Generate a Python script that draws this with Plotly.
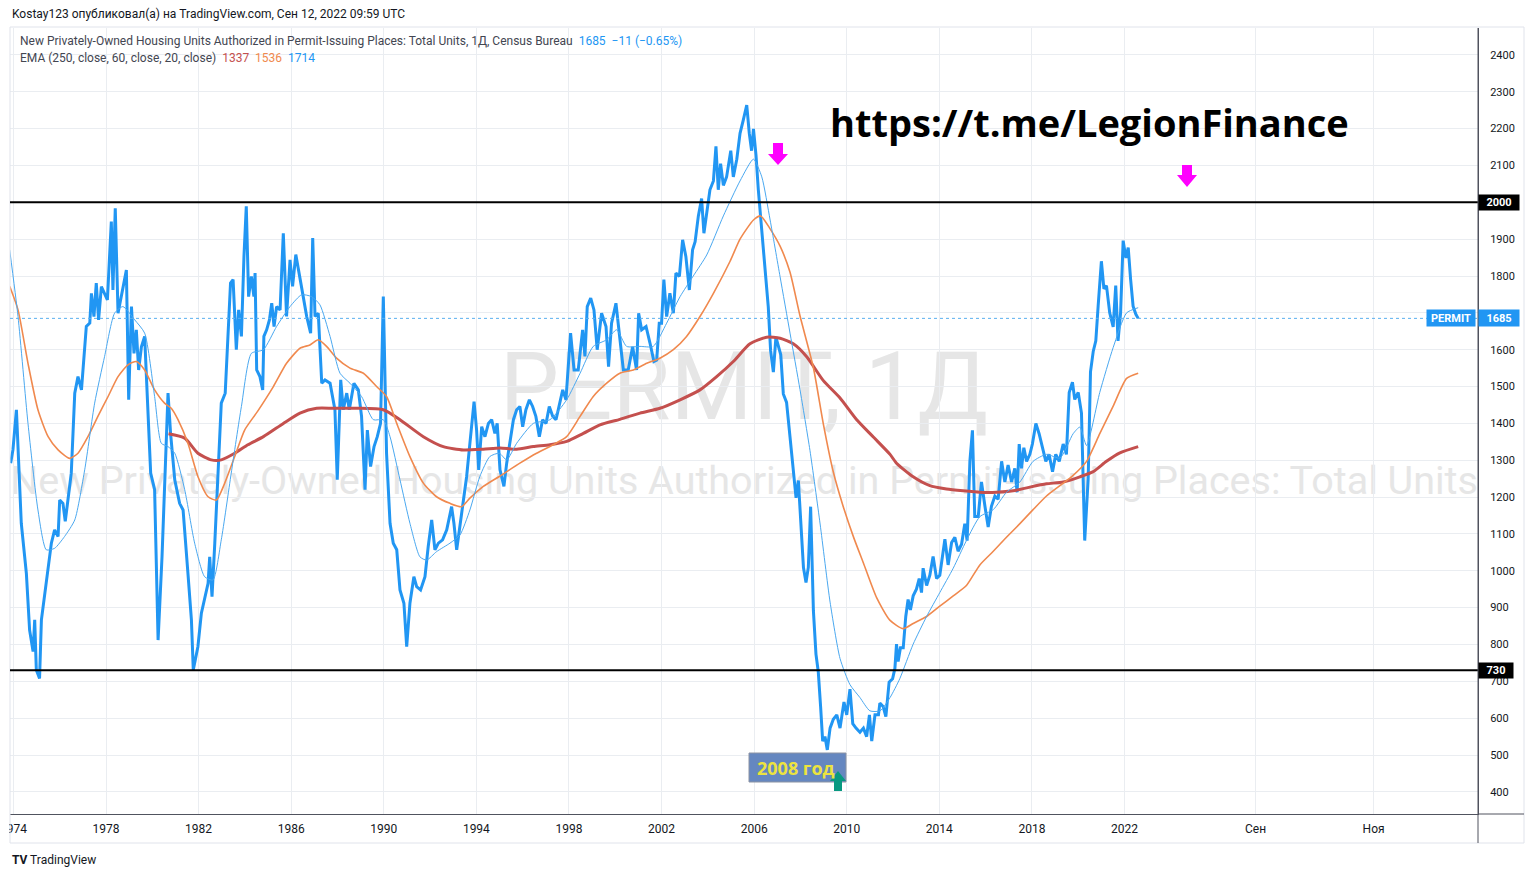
import plotly.graph_objects as go

# ---------------- data ----------------
permit_year = [
    1973.88, 1973.98, 1974.13, 1974.20, 1974.34, 1974.56, 1974.70, 1974.85, 1974.92, 1974.99,
    1975.13, 1975.21, 1975.35, 1975.50, 1975.64, 1975.78, 1975.93, 1976.00, 1976.14, 1976.24,
    1976.36, 1976.50, 1976.65, 1976.79, 1976.94, 1977.15, 1977.30, 1977.37, 1977.48, 1977.58,
    1977.68, 1977.80, 1978.06, 1978.23, 1978.30, 1978.40, 1978.52, 1978.73, 1978.88, 1978.98,
    1979.10, 1979.21, 1979.31, 1979.41, 1979.53, 1979.67, 1979.81, 1979.93, 1980.10, 1980.25,
    1980.42, 1980.56, 1980.68, 1980.79, 1980.97, 1981.18, 1981.33, 1981.54, 1981.69, 1981.77,
    1981.97, 1982.12, 1982.26, 1982.41, 1982.48, 1982.58, 1982.70, 1982.84, 1982.98, 1983.15,
    1983.27, 1983.38, 1983.49, 1983.63, 1983.73, 1983.85, 1983.96, 1984.06, 1984.16, 1984.28,
    1984.39, 1984.44, 1984.51, 1984.65, 1984.77, 1984.82, 1984.94, 1985.06, 1985.16, 1985.26,
    1985.37, 1985.52, 1985.66, 1985.80, 1985.95, 1986.06, 1986.20, 1986.35, 1986.52, 1986.67,
    1986.84, 1986.93, 1987.03, 1987.17, 1987.32, 1987.46, 1987.68, 1987.89, 1987.99, 1988.14,
    1988.25, 1988.40, 1988.51, 1988.71, 1988.90, 1989.04, 1989.19, 1989.29, 1989.43, 1989.58,
    1989.72, 1989.86, 1989.98, 1990.12, 1990.27, 1990.41, 1990.56, 1990.70, 1990.87, 1990.99,
    1991.13, 1991.30, 1991.42, 1991.59, 1991.78, 1991.92, 1992.07, 1992.21, 1992.36, 1992.54,
    1992.72, 1992.93, 1993.03, 1993.15, 1993.26, 1993.44, 1993.58, 1993.72, 1993.90, 1994.01,
    1994.10, 1994.23, 1994.37, 1994.52, 1994.66, 1994.80, 1994.90, 1995.02, 1995.19, 1995.31,
    1995.45, 1995.60, 1995.74, 1995.88, 1996.00, 1996.14, 1996.29, 1996.43, 1996.57, 1996.72,
    1996.86, 1997.01, 1997.15, 1997.30, 1997.44, 1997.58, 1997.73, 1997.87, 1998.07, 1998.22,
    1998.40, 1998.59, 1998.69, 1998.79, 1998.94, 1999.08, 1999.22, 1999.41, 1999.60, 1999.71,
    1999.84, 2000.03, 2000.17, 2000.35, 2000.56, 2000.75, 2000.92, 2001.01, 2001.14, 2001.33,
    2001.50, 2001.67, 2001.79, 2001.90, 2002.00, 2002.10, 2002.22, 2002.36, 2002.51, 2002.62,
    2002.77, 2002.91, 2003.05, 2003.20, 2003.34, 2003.45, 2003.59, 2003.73, 2003.83, 2003.95,
    2004.09, 2004.24, 2004.35, 2004.45, 2004.55, 2004.67, 2004.81, 2004.99, 2005.10, 2005.25,
    2005.39, 2005.53, 2005.68, 2005.79, 2005.89, 2005.97, 2006.08, 2006.18, 2006.33, 2006.47,
    2006.61, 2006.71, 2006.83, 2006.94, 2007.05, 2007.15, 2007.26, 2007.40, 2007.55, 2007.69,
    2007.81, 2007.91, 2008.01, 2008.13, 2008.24, 2008.34, 2008.44, 2008.56, 2008.67, 2008.77,
    2008.87, 2008.96, 2009.06, 2009.16, 2009.28, 2009.42, 2009.57, 2009.71, 2009.88, 2010.00,
    2010.14, 2010.26, 2010.40, 2010.57, 2010.72, 2010.86, 2010.98, 2011.08, 2011.22, 2011.37,
    2011.43, 2011.57, 2011.69, 2011.83, 2011.98, 2012.08, 2012.15, 2012.22, 2012.32, 2012.44,
    2012.55, 2012.65, 2012.75, 2012.87, 2013.01, 2013.13, 2013.23, 2013.30, 2013.45, 2013.59,
    2013.73, 2013.88, 2014.02, 2014.14, 2014.24, 2014.38, 2014.53, 2014.67, 2014.81, 2014.96,
    2015.10, 2015.20, 2015.32, 2015.43, 2015.53, 2015.68, 2015.82, 2015.97, 2016.11, 2016.25,
    2016.40, 2016.54, 2016.69, 2016.83, 2016.97, 2017.12, 2017.26, 2017.36, 2017.45, 2017.55,
    2017.65, 2017.77, 2017.91, 2018.02, 2018.17, 2018.31, 2018.46, 2018.60, 2018.74, 2018.89,
    2019.03, 2019.18, 2019.35, 2019.49, 2019.61, 2019.75, 2019.85, 2020.00, 2020.14, 2020.28,
    2020.43, 2020.53, 2020.65, 2020.76, 2020.86, 2021.00, 2021.11, 2021.22, 2021.36, 2021.51,
    2021.62, 2021.72, 2021.83, 2021.94, 2022.06, 2022.16, 2022.26, 2022.37, 2022.49, 2022.59,
]
permit_value = [
    1292, 1328, 1437, 1346, 1129, 993, 839, 781, 867, 731,
    708, 867, 939, 1011, 1075, 1111, 1093, 1192, 1183, 1134,
    1192, 1265, 1482, 1527, 1491, 1663, 1672, 1753, 1690, 1781,
    1681, 1771, 1735, 1948, 1762, 1984, 1699, 1762, 1816, 1464,
    1717, 1590, 1654, 1545, 1608, 1636, 1446, 1265, 1220, 812,
    1038, 1310, 1482, 1373, 1247, 1183, 1165, 993, 867, 731,
    794, 885, 921, 966, 1038, 930, 1075, 1283, 1455, 1482,
    1654, 1781, 1790, 1600, 1708, 1636, 1853, 1989, 1744, 1799,
    1744, 1808, 1545, 1527, 1491, 1636, 1654, 1681, 1726, 1663,
    1717, 1708, 1916, 1690, 1844, 1772, 1858, 1799, 1744, 1690,
    1645, 1903, 1690, 1699, 1509, 1518, 1509, 1437, 1247, 1518,
    1437, 1482, 1437, 1509, 1491, 1419, 1220, 1382, 1283, 1337,
    1364, 1400, 1744, 1319, 1129, 1075, 1057, 948, 912, 794,
    912, 984, 957, 948, 984, 1066, 1138, 1057, 1075, 1084,
    1111, 1174, 1129, 1057, 1111, 1192, 1256, 1346, 1459, 1382,
    1274, 1391, 1364, 1400, 1410, 1373, 1400, 1274, 1229, 1292,
    1346, 1410, 1437, 1446, 1391, 1437, 1464, 1446, 1419, 1364,
    1410, 1400, 1446, 1419, 1410, 1446, 1491, 1464, 1645, 1545,
    1545, 1654, 1582, 1717, 1740, 1708, 1600, 1699, 1663, 1554,
    1672, 1726, 1645, 1545, 1545, 1608, 1545, 1699, 1654, 1663,
    1618, 1568, 1572, 1672, 1672, 1790, 1690, 1753, 1699, 1808,
    1799, 1898, 1853, 1762, 1871, 1893, 1963, 2010, 1916, 1975,
    2034, 2058, 2152, 2034, 2105, 2046, 2069, 2140, 2069, 2117,
    2187, 2223, 2264, 2187, 2140, 2199, 2128, 2034, 1916, 1810,
    1716, 1598, 1539, 1634, 1610, 1586, 1480, 1457, 1363, 1268,
    1198, 1245, 1127, 1009, 968, 1009, 1174, 891, 774, 726,
    632, 538, 550, 514, 573, 597, 609, 573, 644, 609,
    679, 585, 573, 562, 573, 550, 609, 538, 609, 609,
    641, 632, 604, 698, 707, 735, 801, 754, 791, 791,
    876, 922, 894, 932, 950, 979, 941, 1007, 960, 988,
    1039, 979, 988, 1035, 1086, 1016, 1077, 1091, 1053, 1072,
    1128, 1082, 1297, 1381, 1147, 1147, 1241, 1175, 1119, 1175,
    1203, 1194, 1297, 1241, 1287, 1241, 1278, 1213, 1344, 1278,
    1334, 1297, 1316, 1344, 1400, 1372, 1334, 1297, 1316, 1269,
    1316, 1297, 1344, 1316, 1484, 1512, 1465, 1484, 1428, 1082,
    1250, 1540, 1596, 1624, 1718, 1840, 1765, 1774, 1700, 1662,
    1774, 1624, 1700, 1896, 1849, 1877, 1793, 1718, 1696, 1685,
]

ema250_year = [1980.70, 1981.40, 1981.97, 1982.55, 1982.98, 1983.56, 1984.13, 1984.80, 1985.66, 1986.38,
               1987.10, 1987.82, 1988.83, 1989.98, 1990.70, 1991.71, 1992.57, 1993.44, 1994.30, 1995.02,
               1995.74, 1996.46, 1997.18, 1997.90, 1998.62, 1999.34, 2000.20, 2001.07, 2001.93, 2002.80,
               2003.66, 2004.38, 2005.10, 2005.82, 2006.54, 2007.12, 2007.69, 2008.27, 2008.99, 2009.71,
               2010.43, 2011.15, 2011.87, 2012.15, 2012.87, 2013.59, 2014.31, 2015.03, 2015.75, 2016.47,
               2017.19, 2017.91, 2018.63, 2019.35, 2020.07, 2020.65, 2021.22, 2021.80, 2022.59]
ema250_value = [1372, 1360, 1319, 1301, 1301, 1319, 1342, 1364, 1400, 1428,
                1441, 1441, 1441, 1437, 1410, 1364, 1337, 1328, 1330, 1333,
                1330, 1337, 1342, 1351, 1373, 1396, 1411, 1428, 1441, 1464,
                1491, 1527, 1568, 1616, 1634, 1631, 1616, 1581, 1516, 1469,
                1410, 1363, 1316, 1292, 1255, 1231, 1222, 1217, 1213, 1213,
                1217, 1227, 1236, 1241, 1255, 1269, 1297, 1320, 1337]

ema60_year = [1973.84, 1974.20, 1974.63, 1975.06, 1975.50, 1975.93, 1976.43, 1976.79, 1977.22, 1977.65,
              1978.09, 1978.52, 1978.95, 1979.31, 1979.67, 1980.10, 1980.53, 1980.82, 1981.11, 1981.54,
              1981.97, 1982.41, 1982.77, 1983.13, 1983.56, 1983.99, 1984.54, 1985.23, 1985.80, 1986.38,
              1986.81, 1987.17, 1987.53, 1987.96, 1988.54, 1989.12, 1989.69, 1990.12, 1990.56, 1991.13,
              1991.71, 1992.28, 1992.86, 1993.36, 1993.72, 1994.30, 1994.99, 1995.88, 1996.60, 1997.32,
              1997.90, 1998.48, 1999.05, 1999.63, 2000.20, 2000.78, 2001.36, 2001.93, 2002.51, 2003.08,
              2003.66, 2004.24, 2004.96, 2005.39, 2005.97, 2006.28, 2006.69, 2007.12, 2007.55, 2007.98,
              2008.56, 2008.99, 2009.42, 2009.85, 2010.29, 2010.72, 2011.29, 2011.86, 2012.44, 2012.87,
              2013.45, 2014.02, 2014.60, 2015.17, 2015.75, 2016.33, 2016.90, 2017.48, 2018.05, 2018.63,
              2019.21, 2019.78, 2020.36, 2020.93, 2021.51, 2022.09, 2022.59]
ema60_value = [1772, 1708, 1563, 1437, 1364, 1328, 1305, 1319, 1364, 1419,
               1473, 1527, 1559, 1568, 1545, 1491, 1455, 1441, 1410, 1346,
               1256, 1201, 1192, 1238, 1310, 1382, 1432, 1500, 1563, 1604,
               1613, 1627, 1609, 1577, 1550, 1536, 1500, 1473, 1400, 1310,
               1238, 1201, 1183, 1174, 1197, 1229, 1256, 1292, 1319, 1342,
               1364, 1419, 1473, 1509, 1536, 1545, 1563, 1577, 1600, 1636,
               1690, 1753, 1840, 1900, 1952, 1963, 1928, 1881, 1810, 1692,
               1551, 1398, 1268, 1174, 1092, 1021, 927, 866, 843, 857,
               876, 904, 932, 960, 1016, 1053, 1091, 1128, 1166, 1203,
               1231, 1259, 1297, 1372, 1447, 1522, 1536]

ema20_year = [1973.84, 1974.20, 1974.63, 1975.06, 1975.42, 1975.78, 1976.21, 1976.65, 1977.08, 1977.51,
              1977.94, 1978.37, 1978.73, 1979.24, 1979.67, 1980.10, 1980.39, 1980.68, 1980.97, 1981.40,
              1981.83, 1982.26, 1982.62, 1982.98, 1983.41, 1983.85, 1984.28, 1984.80, 1985.37, 1985.95,
              1986.45, 1986.88, 1987.24, 1987.68, 1988.11, 1988.54, 1989.04, 1989.55, 1989.98, 1990.27,
              1990.70, 1991.13, 1991.56, 1991.85, 1992.28, 1992.86, 1993.29, 1993.72, 1994.15, 1994.58,
              1994.99, 1995.31, 1995.74, 1996.46, 1997.18, 1997.90, 1998.48, 1999.05, 1999.63, 2000.06,
              2000.49, 2001.07, 2001.64, 2002.22, 2002.80, 2003.37, 2003.95, 2004.67, 2005.39, 2005.97,
              2006.33, 2006.69, 2007.12, 2007.55, 2007.98, 2008.41, 2008.85, 2009.28, 2009.71, 2010.14,
              2010.57, 2011.00, 2011.44, 2011.87, 2012.29, 2012.87, 2013.45, 2014.02, 2014.60, 2015.17,
              2015.75, 2016.33, 2016.90, 2017.48, 2018.05, 2018.63, 2019.21, 2019.78, 2020.07, 2020.36,
              2020.93, 2021.51, 2022.09, 2022.59]
ema20_value = [1871, 1690, 1400, 1165, 1057, 1061, 1093, 1138, 1274, 1455,
               1582, 1699, 1717, 1681, 1645, 1473, 1346, 1337, 1319, 1220,
               1075, 984, 975, 1084, 1265, 1446, 1590, 1600, 1663, 1717,
               1749, 1744, 1722, 1636, 1536, 1509, 1473, 1410, 1410, 1364,
               1247, 1129, 1038, 1029, 1052, 1075, 1097, 1165, 1256, 1310,
               1319, 1301, 1346, 1400, 1410, 1464, 1536, 1609, 1627, 1654,
               1609, 1609, 1609, 1672, 1744, 1800, 1857, 1963, 2058, 2117,
               2069, 1952, 1798, 1645, 1492, 1327, 1127, 915, 762, 691,
               656, 620, 620, 656, 707, 801, 876, 941, 1007, 1082,
               1147, 1166, 1213, 1241, 1297, 1316, 1306, 1372, 1390, 1340,
               1484, 1606, 1700, 1714]

level_lines = [2000, 730]
y_ticks = list(range(400, 2401, 100))
y_ticktext = ["" if v in (1700, 2000) else str(v) for v in y_ticks]
x_tickvals = [1974, 1978, 1982, 1986, 1990, 1994, 1998, 2002, 2006, 2010, 2014, 2018, 2022, 2027.66, 2032.76]
x_ticktext = ["1974", "1978", "1982", "1986", "1990", "1994", "1998", "2002", "2006",
              "2010", "2014", "2018", "2022", "Сен", "Ноя"]

# ---------------- layout helpers (pixel -> paper) ----------------
PL, PR, PT, PB = 10, 1478, 28, 814
def px(x):
    return (x - PL) / (PR - PL)
def py(y):
    return (PB - y) / (PB - PT)

BLUE = "#2196f3"
RED = "#c4504e"
ORANGE = "#f0894e"
GRID = "#eaedf1"
AXIS = "#50535e"
FONT = "Roboto"

fig = go.Figure()
fig.add_trace(go.Scatter(x=permit_year, y=permit_value, mode="lines",
                         line=dict(color=BLUE, width=3), hoverinfo="skip"))
fig.add_trace(go.Scatter(x=ema250_year, y=ema250_value, mode="lines",
                         line=dict(color=RED, width=3, shape="spline", smoothing=0.6), hoverinfo="skip"))
fig.add_trace(go.Scatter(x=ema60_year, y=ema60_value, mode="lines",
                         line=dict(color=ORANGE, width=1.6, shape="spline", smoothing=0.6), hoverinfo="skip"))
fig.add_trace(go.Scatter(x=ema20_year, y=ema20_value, mode="lines",
                         line=dict(color="#4aa8f0", width=1, shape="spline", smoothing=0.6), hoverinfo="skip"))

shapes = []
# watermark (below everything)
shapes.append(dict(type="rect", xref="paper", yref="paper", x0=px(10), x1=px(1478),
                   y0=py(432), y1=py(328), line=dict(width=0), fillcolor="rgba(0,0,0,0)",
                   layer="below",
                   label=dict(text="PERMIT, 1Д", textposition="middle center",
                              font=dict(family=FONT, size=94, color="#e6e6e6"))))
shapes.append(dict(type="rect", xref="paper", yref="paper", x0=px(10), x1=px(1478),
                   y0=py(500), y1=py(456), line=dict(width=0), fillcolor="rgba(0,0,0,0)",
                   layer="below",
                   label=dict(text="New Privately-Owned Housing Units Authorized in Permit-Issuing Places: Total Units",
                              textposition="middle center",
                              font=dict(family=FONT, size=39.5, color="#e6e6e6"))))
# outer frame
shapes.append(dict(type="rect", xref="paper", yref="paper", x0=px(10), x1=px(1524),
                   y0=py(843), y1=py(27), line=dict(color="#e0e3eb", width=1)))
# last value dotted line
shapes.append(dict(type="line", xref="paper", yref="y", x0=0, x1=1,
                   y0=permit_value[-1], y1=permit_value[-1],
                   line=dict(color="#5aafef", width=1, dash="dot")))
# horizontal levels
for lv in level_lines:
    shapes.append(dict(type="line", xref="paper", yref="y", x0=0, x1=1, y0=lv, y1=lv,
                       line=dict(color="black", width=2)))
# axis line extensions
shapes.append(dict(type="line", xref="paper", yref="paper", x0=px(1478), x1=px(1524),
                   y0=0, y1=0, line=dict(color=AXIS, width=1)))
shapes.append(dict(type="line", xref="paper", yref="paper", x0=1, x1=1,
                   y0=py(843), y1=py(28), line=dict(color=AXIS, width=1)))
# clip the first x label at the chart edge
shapes.append(dict(type="rect", xref="paper", yref="paper", x0=px(-5), x1=px(9),
                   y0=py(842), y1=py(816), line=dict(width=0), fillcolor="white"))
# magenta arrows
def down_arrow(cx, top, head, tip, color):
    return dict(type="path", xref="paper", yref="paper", fillcolor=color, line=dict(width=0),
                path=(f"M{px(cx-5)},{py(top)} L{px(cx+5)},{py(top)} L{px(cx+5)},{py(head)} "
                      f"L{px(cx+10)},{py(head)} L{px(cx)},{py(tip)} L{px(cx-10)},{py(head)} "
                      f"L{px(cx-5)},{py(head)} Z"))
shapes.append(down_arrow(778, 143, 154, 165, "#ff00ff"))
shapes.append(down_arrow(1187, 165, 175, 187, "#ff00ff"))
# 2008 label box
shapes.append(dict(type="rect", xref="paper", yref="paper", x0=px(749), x1=px(846),
                   y0=py(782), y1=py(753), fillcolor="#6587c0", line=dict(color="#8c93a3", width=1)))
# green up arrow
shapes.append(dict(type="path", xref="paper", yref="paper", fillcolor="#089981", line=dict(width=0),
                   path=(f"M{px(838)},{py(771)} L{px(846)},{py(781)} L{px(842)},{py(781)} "
                         f"L{px(842)},{py(791)} L{px(834)},{py(791)} L{px(834)},{py(781)} "
                         f"L{px(830)},{py(781)} Z")))

ann = []
ann.append(dict(xref="paper", yref="paper", x=px(10), y=py(14), xanchor="left", yanchor="middle",
                text="Kostay123 опубликовал(а) на TradingView.com, Сен 12, 2022 09:59 UTC",
                showarrow=False, font=dict(family=FONT, size=12, color="#131722")))
ann.append(dict(xref="paper", yref="paper", x=px(18), y=py(41), xanchor="left", yanchor="middle",
                text=("New Privately-Owned Housing Units Authorized in Permit-Issuing Places: Total Units, 1Д, Census Bureau"
                      f"\u00a0\u00a0<span style='color:{BLUE}'>1685\u00a0\u00a0−11 (−0.65%)</span>"),
                showarrow=False, font=dict(family=FONT, size=12, color="#434651")))
ann.append(dict(xref="paper", yref="paper", x=px(18), y=py(58), xanchor="left", yanchor="middle",
                text=("EMA (250, close, 60, close, 20, close)"
                      f"\u00a0\u00a0<span style='color:{RED}'>1337</span>"
                      f"\u00a0\u00a0<span style='color:{ORANGE}'>1536</span>"
                      f"\u00a0\u00a0<span style='color:{BLUE}'>1714</span>"),
                showarrow=False, font=dict(family=FONT, size=12, color="#434651")))
ann.append(dict(xref="paper", yref="paper", x=px(1089), y=py(122), xanchor="center", yanchor="middle",
                text="<b>https://t.me/LegionFinance</b>", showarrow=False,
                font=dict(family="Open Sans", size=38, color="black")))
ann.append(dict(xref="paper", yref="paper", x=px(796), y=py(768), xanchor="center", yanchor="middle",
                text="<b>2008 год</b>", showarrow=False,
                font=dict(family="Open Sans", size=18, color="#ece33f")))
# price-axis labels
for lv in level_lines:
    ann.append(dict(xref="paper", yref="y", x=1, y=lv, xanchor="left", yanchor="middle",
                    text=f"<b>{lv}</b>", showarrow=False, bgcolor="black", width=38 if lv >= 1000 else 32,
                    height=13, borderpad=1, align="center",
                    font=dict(family=FONT, size=11, color="white")))
ann.append(dict(xref="paper", yref="y", x=1, y=permit_value[-1], xanchor="left", yanchor="middle",
                text=f"<b>{permit_value[-1]}</b>", showarrow=False, bgcolor=BLUE, width=38, height=14,
                borderpad=1, align="center", font=dict(family=FONT, size=11, color="white")))
ann.append(dict(xref="paper", yref="y", x=px(1476), y=permit_value[-1], xanchor="right", yanchor="middle",
                text="<b>PERMIT</b>", showarrow=False, bgcolor=BLUE, width=46, height=14,
                borderpad=1, align="center", font=dict(family=FONT, size=11, color="white")))
ann.append(dict(xref="paper", yref="paper", x=px(10), y=py(860), xanchor="left", yanchor="middle",
                text="<b>TV</b> TradingView", showarrow=False,
                font=dict(family=FONT, size=12, color="#131722")))

fig.update_layout(
    width=1534, height=878,
    margin=dict(l=PL, r=1534 - PR, t=PT, b=878 - PB, autoexpand=False),
    paper_bgcolor="white", plot_bgcolor="white",
    showlegend=False,
    shapes=shapes, annotations=ann,
    xaxis=dict(range=[1973.853, 2037.27], tickvals=x_tickvals, ticktext=x_ticktext,
               showgrid=True, gridcolor=GRID, gridwidth=1, zeroline=False,
               showline=True, linecolor=AXIS, linewidth=1, ticks="",
               ticklabeloverflow="allow", automargin=False,
               ticklabelstandoff=4, tickfont=dict(family=FONT, size=12, color="#131722")),
    yaxis=dict(range=[340, 2473], side="right", tickvals=y_ticks, ticktext=y_ticktext,
               showgrid=True, gridcolor=GRID, gridwidth=1, zeroline=False,
               showline=True, linecolor=AXIS, linewidth=1, ticks="", automargin=False,
               ticklabelstandoff=9, tickfont=dict(family=FONT, size=11, color="#131722")),
)

fig.write_html("out.html")
